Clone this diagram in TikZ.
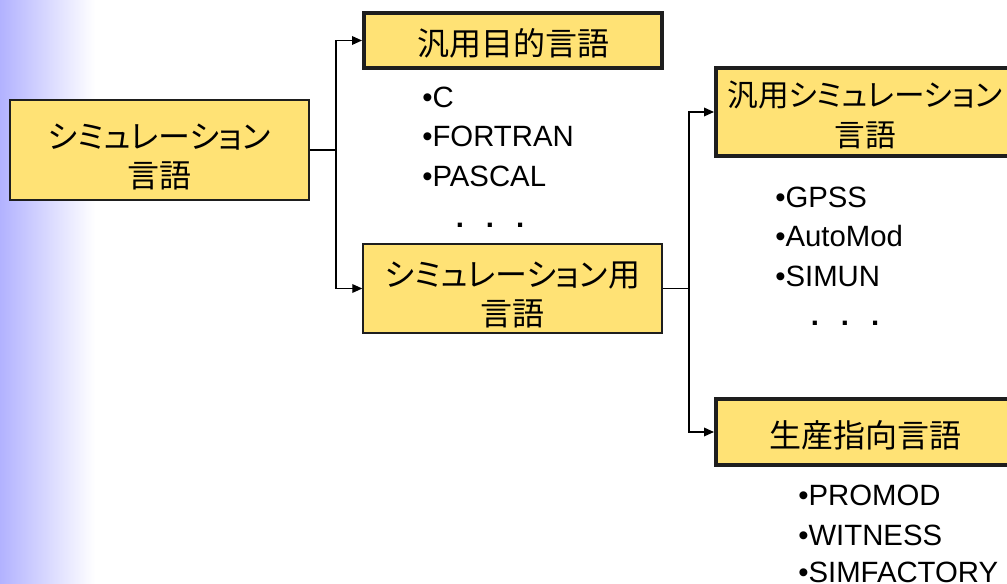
\documentclass[tikz,border=0pt]{standalone}
\usepackage{fontspec}
\setmainfont{Liberation Sans}
\newfontfamily\jp[RawFeature={+palt}]{Noto Sans CJK JP}
\usetikzlibrary{arrows.meta}
\definecolor{boxyellow}{RGB}{255,226,117}
\definecolor{edgegray}{RGB}{30,30,30}
\definecolor{lav}{RGB}{178,178,255}
\newcommand{\lift}[1]{\rule{0pt}{#1}}
\begin{document}
\begin{tikzpicture}[x=0.75pt,y=-0.75pt,
  thinbox/.style={draw=edgegray,line width=1.1pt,fill=boxyellow,inner sep=0pt,
    align=center,font=\jp\fontsize{24pt}{29pt}\selectfont},
  thickbox/.style={draw=edgegray,line width=3pt,fill=boxyellow,inner sep=0pt,
    align=center,font=\jp\fontsize{24pt}{29pt}\selectfont},
  item/.style={anchor=base west,inner sep=0pt,font=\fontsize{22pt}{26pt}\selectfont},
  dots/.style={anchor=base,inner sep=0pt,font=\bfseries\fontsize{22pt}{26pt}\selectfont},
  link/.style={draw=black,line width=1pt},
  arr/.style={link,-{Triangle[length=7.5pt,width=6.5pt]}}]
\useasboundingbox (0,0) rectangle (1007,584);
\fill[left color=lav,right color=white] (0,0) rectangle (95,584);

\node[thinbox,minimum width=224.25pt,minimum height=75pt] (root) at (159.5,150)
  {\lift{29pt}シミュレーション\\言語};
\node[thickbox,minimum width=223.5pt,minimum height=41.25pt] (gp) at (513,40.5)
  {\lift{25pt}汎用目的言語};
\node[thinbox,minimum width=224.25pt,minimum height=66.75pt] (sim) at (512.5,288.5)
  {\lift{28.5pt}シミュレーション用\\言語};
\node[thickbox,minimum width=223.5pt,minimum height=66pt,
  font=\jp\fontsize{23pt}{30pt}\selectfont] (gsim) at (865,112)
  {\lift{24pt}汎用シミュレーション\\言語};
\node[thickbox,minimum width=223.5pt,minimum height=49.5pt] (prod) at (865,432)
  {\lift{25pt}生産指向言語};

\coordinate (j1) at (336,150);
\coordinate (j2) at (689,288.5);
\draw[link] (root.east) -- (j1);
\draw[arr] (j1) |- (gp.west);
\draw[arr] (j1) |- (sim.west);
\draw[link] (sim.east) -- (j2);
\draw[arr] (j2) |- (gsim.west);
\draw[arr] (j2) |- (prod.west);

\node[item] (c) at (422,108) {•C};
\node[item] (fortran) at (422,147) {•FORTRAN};
\node[item] (pascal) at (422,187) {•PASCAL};
\node[dots] (d1) at (490,228) {.\hspace{0.75em}.\hspace{0.75em}.};

\node[item] (gpss) at (775,208) {•GPSS};
\node[item] (automod) at (775,247) {•AutoMod};
\node[item] (simun) at (775,287) {•SIMUN};
\node[dots] (d2) at (845,326) {.\hspace{0.75em}.\hspace{0.75em}.};

\node[item] (promod) at (798,505) {•PROMOD};
\node[item] (witness) at (798,545) {•WITNESS};
\node[item] (simf) at (798,582) {•SIMFACTORY};
\end{tikzpicture}
\end{document}
